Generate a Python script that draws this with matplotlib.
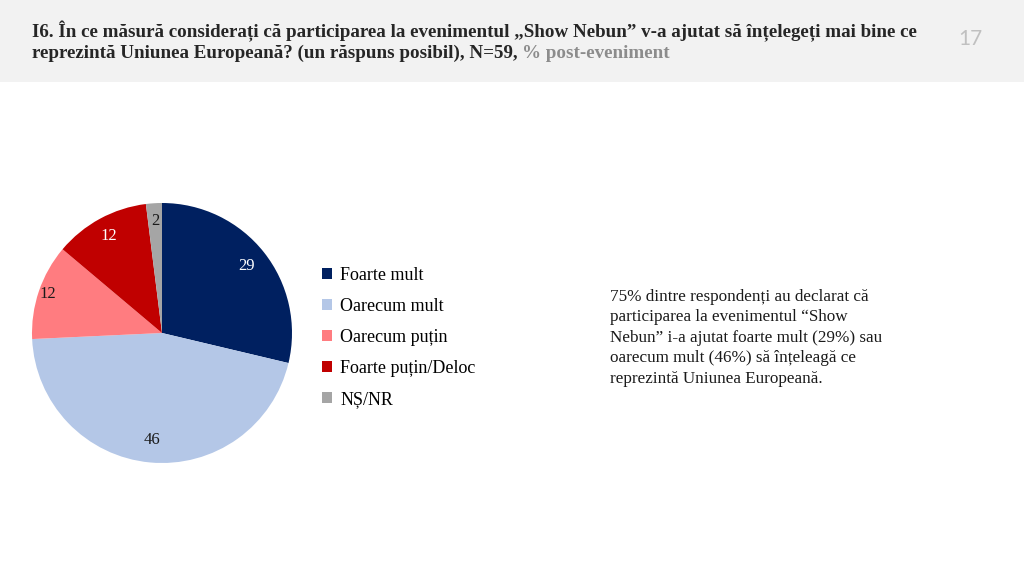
import matplotlib
matplotlib.use("Agg")
import matplotlib.pyplot as plt
import numpy as np
from matplotlib.patches import Rectangle

categories = ["Foarte mult", "Oarecum mult", "Oarecum puțin", "Foarte puțin/Deloc", "NȘ/NR"]
values = [29, 46, 12, 12, 2]
colors = ["#002060", "#b4c7e7", "#ff7c80", "#c00000", "#a5a5a5"]
label_colors = ["white", "#1a1a1a", "#1a1a1a", "white", "#1a1a1a"]
label_dist = [0.83, 0.83, 0.93, 0.85, 0.86]

title1 = "I6. În ce măsură considerați că participarea la evenimentul „Show Nebun” v-a ajutat să înțelegeți mai bine ce"
title2a = "reprezintă Uniunea Europeană? (un răspuns posibil), N=59, "
title2b = "% post-eveniment"
page_no = "17"
note = ("75% dintre respondenți au declarat că\n"
        "participarea la evenimentul “Show\n"
        "Nebun” i-a ajutat foarte mult (29%) sau\n"
        "oarecum mult (46%) să înțeleagă ce\n"
        "reprezintă Uniunea Europeană.")

serif = ["Liberation Serif", "DejaVu Serif"]
W, H = 1024, 574
fig = plt.figure(figsize=(W / 100, H / 100), dpi=100)
fig.patch.set_facecolor("white")

# header band
fig.patches.append(Rectangle((0, 1 - 82 / H), 1, 82 / H, transform=fig.transFigure,
                             facecolor="#f2f2f2", edgecolor="none", zorder=0))

tfs = 13.7
t1 = fig.text(32 / W, 1 - 31 / H, title1, family=serif, weight="bold", fontsize=tfs,
              color="#262626", va="center", ha="left")
t2 = fig.text(32 / W, 1 - 53 / H, title2a, family=serif, weight="bold", fontsize=tfs,
              color="#262626", va="center", ha="left")
fig.canvas.draw()
bb = t2.get_window_extent()
fig.text(bb.x1 / W, 1 - 53 / H, title2b, family=serif, weight="bold", fontsize=tfs,
         color="#8c8c8c", va="center", ha="left")
fig.text(970 / W, 1 - 39 / H, page_no, family=["Lato", "DejaVu Sans"],
         fontsize=15, color="#c0c0c0", va="center", ha="center")

# pie
cx, cy, r = 162, 333, 130
ax = fig.add_axes([(cx - r) / W, (H - cy - r) / H, 2 * r / W, 2 * r / H])
wedges, _ = ax.pie(values, colors=colors, startangle=90, counterclock=False,
                   wedgeprops=dict(linewidth=0))
ax.set_xlim(-1, 1)
ax.set_ylim(-1, 1)
ax.set_aspect("equal")
for w, v, lc, d in zip(wedges, values, label_colors, label_dist):
    ang = np.deg2rad((w.theta1 + w.theta2) / 2)
    ax.text(d * np.cos(ang), d * np.sin(ang), str(v), ha="center", va="center",
            family=serif, fontsize=12, color=lc)

leg = fig.legend(wedges, categories, loc="upper left",
                 bbox_to_anchor=(306 / W, 1 - 251 / H), frameon=False,
                 prop=dict(family=serif, size=13), handlelength=0.55,
                 handleheight=0.55, handletextpad=0.45, labelspacing=0.77)

fig.text(610 / W, 1 - 289 / H, note, family=serif, fontsize=12.3, color="#1a1a1a",
         va="top", ha="left", linespacing=1.37)

fig.savefig("out.png", dpi=100)
